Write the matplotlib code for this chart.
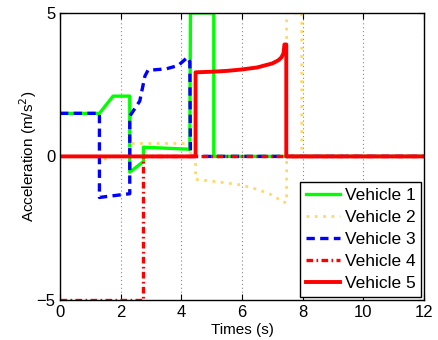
import numpy as np
import matplotlib
matplotlib.use('Agg')
import matplotlib.pyplot as plt

plt.rcParams['font.family'] = ['Liberation Sans', 'DejaVu Sans']

# time (s) / acceleration (m/s^2) for each vehicle
t1 = [0, 1.3, 1.75, 2.3, 2.3, 2.75, 2.75, 4.28, 4.3, 5.07, 5.07, 12]
a1 = [1.5, 1.5, 2.1, 2.1, -0.55, -0.18, 0.32, 0.25, 5, 5, 0, 0]

t2 = [0, 1.3, 1.32, 1.55, 1.6, 2.3, 2.3, 4.3, 4.3, 4.47, 4.47, 5.3, 6.0, 6.5, 6.9, 7.15, 7.35, 7.47, 7.47, 7.97, 7.97, 12]
a2 = [0, 0, -0.2, -0.05, 0, 0, 0.45, 0.45, 0, 0, -0.8, -0.9, -1.0, -1.15, -1.3, -1.45, -1.6, -1.6, 5, 5, 0, 0]

t3 = [0, 1.3, 1.3, 2.3, 2.3, 2.63, 2.8, 2.9, 3.5, 3.9, 4.2, 4.28, 4.3, 12]
a3 = [1.5, 1.5, -1.43, -1.3, 1.4, 1.93, 2.8, 3.0, 3.05, 3.17, 3.45, 3.3, 0, 0]

t4 = [0, 2.75, 2.75, 12]
a4 = [-5, -5, 0, 0]

t5 = [0, 4.47, 4.47, 5.0, 5.5, 6.0, 6.5, 7.0, 7.2, 7.3, 7.37, 7.4, 7.46, 7.46, 12]
a5 = [0, 0, 2.93, 2.95, 2.98, 3.03, 3.1, 3.24, 3.35, 3.45, 3.6, 3.9, 3.9, 0, 0]

labels = ['Vehicle 1', 'Vehicle 2', 'Vehicle 3', 'Vehicle 4', 'Vehicle 5']
xticks = [0, 2, 4, 6, 8, 10, 12]
yticks = [-5, 0, 5]

fig = plt.figure(figsize=(4.38, 3.4), dpi=100)
ax = fig.add_axes([0.137, 0.118, 0.831, 0.844])

ax.plot(t1, a1, '-', color='#00ff00', lw=2.4, label=labels[0])
ax.plot(t2, a2, ':', color='#ffd966', lw=2.0, dashes=(1, 2), label=labels[1])
ax.plot(t3, a3, '--', color='#0000ff', lw=2.4, dashes=(2.5, 1.6), label=labels[2])
ax.plot(t4, a4, '-.', color='#ff0000', lw=2.4, dashes=(2.0, 1.0, 0.5, 1.0), label=labels[3])
ax.plot(t5, a5, '-', color='#ff0000', lw=2.8, label=labels[4])

ax.set_xlim(0, 12)
ax.set_ylim(-5, 5)
ax.set_xticks(xticks)
ax.set_yticks(yticks)
ax.grid(True, axis='x', color='#888888', lw=0.8, dashes=(1, 2.5))
ax.tick_params(direction='in', top=True, right=True, labelsize=12, length=4)
for s in ax.spines.values():
    s.set_linewidth(1.0)

ax.set_xlabel('Times (s)', fontsize=11, labelpad=2.5)
ax.set_ylabel('Acceleration (m/s$^2$)', fontsize=11, labelpad=-2)

leg = ax.legend(loc='lower right', fontsize=12.5, fancybox=False, framealpha=1,
                edgecolor='black', handlelength=1.95, handletextpad=0.25,
                labelspacing=0.4, borderpad=0.35, borderaxespad=0.15)
leg.get_frame().set_linewidth(1.0)

fig.savefig('out.png', dpi=100)
